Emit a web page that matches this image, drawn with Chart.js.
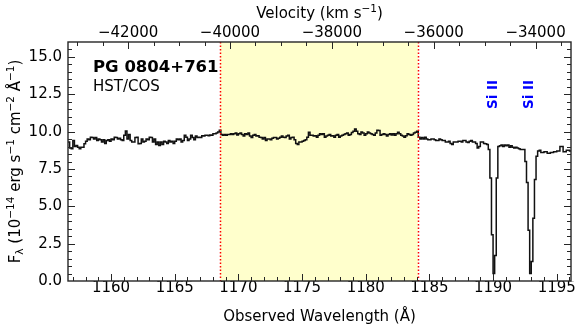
<!DOCTYPE html>
<html><head><meta charset="utf-8">
<script src="https://cdn.jsdelivr.net/npm/chart.js@4/dist/chart.umd.min.js"></script>
<style>html,body{margin:0;padding:0;background:#fff}#wrap{width:580px;height:330px}</style>
</head><body><div id="wrap"><canvas id="c" width="580" height="330"></canvas></div>
<script>
// ---- data (flux in 1e-14 erg/s/cm2/A); each value is one step bin, given by its left edge ----
const fluxContinuum = [ // 0.125 A bins from 1156.625
  9.3, 8.9, 8.85, 9.4, 9.0, 9.07, 8.96, 8.85, 8.96, 8.96,
  9.18, 9.36, 9.5, 9.45, 9.63, 9.6, 9.5, 9.6, 9.4, 9.5,
  9.45, 9.3, 9.45, 9.2, 9.4, 9.45, 9.36, 9.5, 9.45, 9.63,
  9.6, 9.5, 9.55, 9.45, 9.4, 9.75, 10.05, 9.5, 9.8, 9.4,
  9.3, 9.3, 9.6, 9.63, 9.18, 9.2, 9.5, 9.3, 9.36, 9.5,
  9.45, 9.63, 9.6, 9.3, 9.5, 9.13, 9.3, 9.07, 9.3, 9.13,
  9.36, 9.3, 9.2, 9.4, 9.3, 9.36, 9.2, 9.36, 9.5, 9.45,
  9.5, 9.3, 9.4, 9.75, 9.63, 9.4, 9.5, 9.75, 9.6, 9.45,
  9.7, 9.6, 9.63, 9.6, 9.72, 9.7, 9.75, 9.75, 9.72, 9.77,
  9.75, 9.85, 9.85, 9.9, 9.98, 10.1, 9.8, 9.75, 9.8, 9.75,
  9.8, 9.8, 9.85, 9.8, 9.85, 9.9, 9.77, 9.85, 9.9, 9.8,
  9.7, 9.85, 9.8, 9.9, 9.7, 9.6, 9.75, 9.8, 9.7, 9.72,
  9.63, 9.6, 9.5, 9.6, 9.4, 9.5, 9.5, 9.45, 9.55, 9.6,
  9.6, 9.5, 9.55, 9.63, 9.7, 9.63, 9.6, 9.7, 9.75, 9.5,
  9.6, 9.63, 9.45, 9.2, 9.13, 9.3, 9.3, 9.36, 9.4, 9.45,
  9.63, 9.96, 9.75, 9.75, 9.7, 9.72, 9.63, 9.75, 9.85, 9.8,
  9.85, 9.63, 9.7, 9.75, 9.8, 9.7, 9.72, 9.63, 9.75, 9.8,
  9.63, 9.7, 9.75, 9.8, 9.85, 9.9, 9.75, 9.8, 9.94, 10.03,
  10.18, 10.03, 9.85, 9.8, 9.98, 9.9, 9.75, 9.85, 9.98, 9.9,
  9.85, 9.8, 9.75, 9.9, 10.1, 10.07, 9.75, 9.8, 9.85, 9.8,
  9.7, 9.8, 9.85, 9.77, 9.85, 9.75, 9.85, 9.96, 9.85, 9.75,
  9.7, 9.63, 9.72, 9.85, 9.8, 9.75, 9.8, 9.9, 9.96, 10.03,
  9.63, 9.5, 9.6, 9.5, 9.63, 9.5, 9.45, 9.45, 9.5, 9.5,
  9.45, 9.4, 9.4, 9.5, 9.45, 9.4, 9.4, 9.3, 9.3, 9.36,
  9.2, 9.13, 9.3, 9.3, 9.3, 9.36, 9.36, 9.3, 9.4, 9.4,
  9.3, 9.28, 9.36, 9.4, 9.3, 9.3, 9.2, 8.9, 9.0, 9.3,
  9.3, 9.2, 9.18, 9.13
];
const fluxSiIIRegion = [ // 0.125 A bins from 1189.625
  8.8, 6.9, 3.1, 0.5, 1.7, 6.9, 9.0, 9.05, 9.1, 9.0,
  9.1, 9.05, 9.1, 8.95, 9.05, 8.95, 8.9, 8.95, 8.9, 8.85,
  8.8, 8.8, 8.8, 8.0, 6.6, 3.4, 0.5, 1.3, 4.2, 6.8,
  8.35, 8.7, 8.75
];
const fluxRedEnd = [ // 0.25 A bins from 1193.75
  8.6, 8.65, 8.55, 8.6, 8.65, 8.7, 9.0, 8.65, 8.75, 8.7
];
const binStarts = [1156.625, 1189.625, 1193.75];
const binWidths = [0.125, 0.125, 0.25];
const wavelengthTicks = [1160, 1165, 1170, 1175, 1180, 1185, 1190, 1195];
const velocityTicks = [-42000, -40000, -38000, -36000, -34000];
const fluxTicks = [0, 2.5, 5.0, 7.5, 10.0, 12.5, 15.0];
const wavelengthRange = [1156.62, 1196.12];
const velocityRange = [-43181, -33304];
const fluxRange = [0, 16];
const windowRange = [1168.57, 1184.10];
const siIILines = [1190.02, 1192.90];
const siIILabels = ['Si II', 'Si II'];
const targetName = 'PG 0804+761';
const instrumentName = 'HST/COS';

// ---- build step points ----
const fluxSegments = [fluxContinuum, fluxSiIIRegion, fluxRedEnd];
const spectrum = [];
fluxSegments.forEach((arr, k) => arr.forEach((f, i) => spectrum.push({x: binStarts[k] + i * binWidths[k], y: f})));
{
  const k = fluxSegments.length - 1, arr = fluxSegments[k];
  spectrum.push({x: binStarts[k] + arr.length * binWidths[k], y: arr[arr.length - 1]});
}

const FAM = '"DejaVu Sans", "Liberation Sans", sans-serif';
const fnt = (s, w) => (w ? w + ' ' : '') + s + 'px ' + FAM;

function richWidth(ctx, segs, size) {
  let w = 0;
  for (const [t, m] of segs) { ctx.font = fnt(m ? size * 0.7 : size); w += ctx.measureText(t).width; }
  return w;
}
function drawRich(ctx, segs, cx, y, size) {
  let x = cx - richWidth(ctx, segs, size) / 2;
  ctx.textAlign = 'left'; ctx.textBaseline = 'alphabetic';
  for (const [t, m] of segs) {
    ctx.font = fnt(m ? size * 0.7 : size);
    const dy = m === 1 ? -size * 0.42 : (m === -1 ? size * 0.22 : 0);
    ctx.fillText(t, x, y + dy);
    x += ctx.measureText(t).width;
  }
}

const decor = {
  id: 'decor',
  beforeDatasetsDraw(chart) {
    const {ctx, chartArea: a, scales: {x}} = chart;
    const x0 = x.getPixelForValue(windowRange[0]), x1 = x.getPixelForValue(windowRange[1]);
    ctx.save();
    ctx.fillStyle = 'rgb(255,255,204)';
    ctx.fillRect(x0, a.top, x1 - x0, a.bottom - a.top);
    ctx.restore();
  },
  afterDatasetsDraw(chart) {
    const {ctx, chartArea: a, scales: {x, xTop, y}} = chart;
    ctx.save();
    // red dotted window boundaries
    ctx.strokeStyle = '#ff0000'; ctx.lineWidth = 1.5; ctx.setLineDash([1.5, 2]);
    for (const w of windowRange) {
      const px = Math.round(x.getPixelForValue(w)) + 0.5;
      ctx.beginPath(); ctx.moveTo(px, a.top); ctx.lineTo(px, a.bottom); ctx.stroke();
    }
    ctx.setLineDash([]);
    // frame
    ctx.strokeStyle = '#262626'; ctx.lineWidth = 1.4;
    ctx.strokeRect(a.left, a.top, a.right - a.left, a.bottom - a.top);
    // inward ticks
    ctx.lineWidth = 1; ctx.strokeStyle = '#262626';
    const tick = (x1, y1, x2, y2) => { ctx.beginPath(); ctx.moveTo(x1, y1); ctx.lineTo(x2, y2); ctx.stroke(); };
    const MAJ = 7, MIN = 4;
    for (let v = Math.ceil(wavelengthRange[0]); v <= wavelengthRange[1]; v += 1) {
      const p = Math.round(x.getPixelForValue(v)) + 0.5, L = v % 5 === 0 ? MAJ : MIN;
      tick(p, a.bottom, p, a.bottom - L);
    }
    for (let v = -43000; v <= velocityRange[1]; v += 500) {
      if (v < velocityRange[0]) continue;
      const p = Math.round(xTop.getPixelForValue(v)) + 0.5, L = v % 2000 === 0 ? MAJ : MIN;
      tick(p, a.top, p, a.top + L);
    }
    for (let v = 0.5; v < fluxRange[1]; v += 0.5) {
      const p = Math.round(y.getPixelForValue(v)) + 0.5, L = (v * 2) % 5 === 0 ? MAJ : MIN;
      tick(a.left, p, a.left + L, p);
      tick(a.right, p, a.right - L, p);
    }
    // labels inside plot
    ctx.fillStyle = '#000';
    ctx.textAlign = 'left'; ctx.textBaseline = 'alphabetic';
    ctx.font = fnt(16.5, 'bold');
    ctx.fillText(targetName, 93, 72);
    ctx.font = fnt(15);
    ctx.fillText(instrumentName, 93, 91);
    // Si II labels
    ctx.fillStyle = '#0000ff';
    ctx.font = fnt(13.5, 'bold');
    siIILines.forEach((w, i) => {
      const px = x.getPixelForValue(w);
      ctx.save(); ctx.translate(px, 94.5); ctx.rotate(-Math.PI / 2);
      ctx.textAlign = 'center'; ctx.textBaseline = 'middle';
      ctx.fillText(siIILabels[i], 0, 0);
      ctx.restore();
    });
    // axis titles
    ctx.fillStyle = '#000';
    const cx = (a.left + a.right) / 2;
    drawRich(ctx, [['Observed Wavelength (Å)', 0]], cx, 321, 15);
    drawRich(ctx, [['Velocity (km s', 0], ['\u22121', 1], [')', 0]], cx, 18, 15);
    ctx.save();
    ctx.translate(20, (a.top + a.bottom) / 2); ctx.rotate(-Math.PI / 2);
    drawRich(ctx, [['F', 0], ['\u03bb', -1], [' (10', 0], ['\u221214', 1], [' erg s', 0], ['\u22121', 1],
      [' cm', 0], ['\u22122', 1], [' Å', 0], ['\u22121', 1], [')', 0]], 0, 0, 15);
    ctx.restore();
    ctx.restore();
  }
};

const tickFont = {family: FAM, size: 15};
new Chart(document.getElementById('c'), {
  type: 'line',
  data: {datasets: [{
    data: spectrum, stepped: true, borderColor: '#111', borderWidth: 1.5,
    pointRadius: 0, borderJoinStyle: 'miter', borderCapStyle: 'butt', fill: false
  }]},
  options: {
    responsive: false, animation: false, devicePixelRatio: 1,
    layout: {padding: {right: 9, left: 0, top: 0, bottom: 0}},
    plugins: {legend: {display: false}, tooltip: {enabled: false}},
    scales: {
      x: {
        type: 'linear', position: 'bottom', min: wavelengthRange[0], max: wavelengthRange[1],
        afterBuildTicks: s => { s.ticks = wavelengthTicks.map(v => ({value: v})); },
        ticks: {callback: v => String(v), font: tickFont, color: '#000', padding: -2, maxRotation: 0, autoSkip: false},
        grid: {display: false, drawTicks: false}, border: {display: false},
        afterFit: s => { s.height = 49; s.paddingLeft = 0; s.paddingRight = 0; }
      },
      xTop: {
        type: 'linear', position: 'top', min: velocityRange[0], max: velocityRange[1],
        afterBuildTicks: s => { s.ticks = velocityTicks.map(v => ({value: v})); },
        ticks: {callback: v => String(v).replace('-', '\u2212'), font: tickFont, color: '#000', padding: 0, maxRotation: 0, autoSkip: false},
        grid: {display: false, drawTicks: false}, border: {display: false},
        afterFit: s => { s.height = 42; s.paddingLeft = 0; s.paddingRight = 0; }
      },
      y: {
        type: 'linear', position: 'left', min: fluxRange[0], max: fluxRange[1],
        afterBuildTicks: s => { s.ticks = fluxTicks.map(v => ({value: v})); },
        ticks: {callback: v => v.toFixed(1), font: tickFont, color: '#000', padding: 6},
        grid: {display: false, drawTicks: false}, border: {display: false},
        afterFit: s => { s.width = 68; s.paddingTop = 0; s.paddingBottom = 0; }
      }
    }
  },
  plugins: [decor]
});
</script></body></html>
